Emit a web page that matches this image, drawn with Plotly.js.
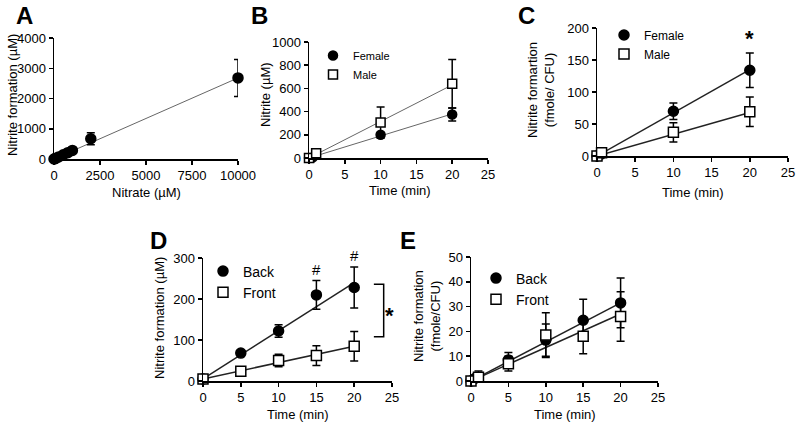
<!DOCTYPE html>
<html>
<head>
<meta charset="utf-8">
<script src="https://cdn.plot.ly/plotly-3.0.1.min.js"></script>
<style>
  html, body { margin: 0; padding: 0; background: #fff; }
  #fig { width: 800px; height: 426px; }
</style>
</head>
<body>
<div id="fig"></div>
<script>
// ---- panel A : nitrate dose response ----
var aNitrate = [0, 50, 100, 250, 500, 750, 1000, 2000, 10000];
var aNitrite = [0, 10, 25, 65, 140, 210, 285, 670, 2680];
var aErr     = [0, 0, 0, 0, 0, 0, 0, 200, 610];
var aFitX = [0, 10000];
var aFitY = [0, 2680];

// ---- panel B : nitrite (uM) by sex ----
var bFemaleT = [0, 0.5, 10, 20];
var bFemale  = [0, 5, 200, 375];
var bFemaleE = [0, 0, 15, 55];
var bMaleT   = [0, 1, 10, 20];
var bMale    = [0, 40, 305, 640];
var bMaleE   = [0, 0, 135, 210];
var bFitT = [0, 20];
var bFemaleFit = [0, 380];
var bMaleFit   = [0, 630];

// ---- panel C : fmole / CFU by sex ----
var cFemaleT = [0, 0.5, 10, 20];
var cFemale  = [0, 3, 70, 134];
var cFemaleE = [0, 2, 13, 27];
var cMaleT   = [0, 0.6, 10, 20];
var cMale    = [0, 5, 37, 69];
var cMaleE   = [0, 3, 15, 23];
var cFitT = [0, 20];
var cFemaleFit = [0, 135];
var cMaleFit   = [0, 68];

// ---- panel D : back vs front (uM) ----
var dTime   = [0, 5, 10, 15, 20];
var dBack   = [5, 68, 122, 210, 228];
var dBackE  = [2, 4, 15, 35, 50];
var dFront  = [5, 24, 50, 62, 85];
var dFrontE = [2, 3, 15, 24, 36];
var dFitT = [0, 20];
var dBackFit  = [5, 240];
var dFrontFit = [5, 85];

// ---- panel E : back vs front (fmole/CFU) ----
var eBackT  = [0, 0.5, 5, 10, 15, 20];
var eBack   = [0, 1, 8.5, 16.5, 24.5, 31.5];
var eBackE  = [0, 1, 3, 6.5, 8.5, 10];
var eFrontT = [0, 1, 5, 10, 15, 20];
var eFront  = [0, 1.5, 7, 18.5, 18, 26];
var eFrontE = [0, 2.5, 3, 9, 7, 10];
var eFitT = [0, 20];
var eBackFit  = [0, 31.5];
var eFrontFit = [0, 27];

var FONT = 'Arial, "Liberation Sans", sans-serif';
function px(x) { return x / 800; }
function py(y) { return 1 - y / 426; }

function xAx(l, r, range, dtick, anchor) {
  return {
    domain: [px(l), px(r)], range: range, dtick: dtick, tick0: 0, anchor: anchor,
    tickformat: 'd',
    showline: true, linecolor: '#000', linewidth: 1.5,
    ticks: 'outside', ticklen: 4, tickwidth: 1.5, tickcolor: '#000',
    showgrid: false, zeroline: false, fixedrange: true,
    tickfont: {family: FONT, size: 13, color: '#000'}
  };
}
function yAx(top, bottom, range, dtick, anchor) {
  var a = xAx(0, 1, range, dtick, anchor);
  a.domain = [py(bottom), py(top)];
  return a;
}

function pts(x, y, err, xa, ya, name, symbol, legend, size) {
  return {
    x: x, y: y, type: 'scatter', mode: 'markers', xaxis: xa, yaxis: ya,
    name: name, legend: legend, showlegend: !!legend, cliponaxis: false,
    marker: {symbol: symbol, size: size, color: symbol === 'circle' ? '#000' : '#fff',
             line: {color: '#000', width: 1.5}},
    error_y: {type: 'data', array: err, visible: true, color: '#000', thickness: 1.5, width: 4},
    hoverinfo: 'x+y'
  };
}
function fit(x, y, xa, ya, color, width) {
  return {
    x: x, y: y, type: 'scatter', mode: 'lines', xaxis: xa, yaxis: ya,
    showlegend: false, hoverinfo: 'skip', cliponaxis: false,
    line: {color: color, width: width}
  };
}

var data = [
  fit(aFitX, aFitY, 'x', 'y', '#666', 1),
  pts(aNitrate, aNitrite, aErr, 'x', 'y', 'A', 'circle', null, 10),

  fit(bFitT, bFemaleFit, 'x2', 'y2', '#666', 1),
  fit(bFitT, bMaleFit, 'x2', 'y2', '#666', 1),
  pts(bFemaleT, bFemale, bFemaleE, 'x2', 'y2', 'Female', 'circle', 'legend', 9),
  pts(bMaleT, bMale, bMaleE, 'x2', 'y2', 'Male', 'square', 'legend', 9),

  fit(cFitT, cFemaleFit, 'x3', 'y3', '#222', 1.5),
  fit(cFitT, cMaleFit, 'x3', 'y3', '#222', 1.5),
  pts(cFemaleT, cFemale, cFemaleE, 'x3', 'y3', 'Female', 'circle', 'legend2', 10),
  pts(cMaleT, cMale, cMaleE, 'x3', 'y3', 'Male', 'square', 'legend2', 10),

  fit(dFitT, dBackFit, 'x4', 'y4', '#222', 1.5),
  fit(dFitT, dFrontFit, 'x4', 'y4', '#222', 1.5),
  pts(dTime, dBack, dBackE, 'x4', 'y4', 'Back', 'circle', 'legend3', 10),
  pts(dTime, dFront, dFrontE, 'x4', 'y4', 'Front', 'square', 'legend3', 10),

  fit(eFitT, eBackFit, 'x5', 'y5', '#222', 1.5),
  fit(eFitT, eFrontFit, 'x5', 'y5', '#222', 1.5),
  pts(eBackT, eBack, eBackE, 'x5', 'y5', 'Back', 'circle', 'legend4', 10),
  pts(eFrontT, eFront, eFrontE, 'x5', 'y5', 'Front', 'square', 'legend4', 10)
];

function title(text, x, y, angle, size) {
  return {text: text, x: px(x), y: py(y), xref: 'paper', yref: 'paper', showarrow: false,
          textangle: angle || 0, font: {family: FONT, size: size || 13, color: '#000'},
          xanchor: 'center', yanchor: 'middle'};
}
function letter(t, x, y) {
  return title('<b>' + t + '</b>', x, y, 0, 24);
}
function mark(t, xa, ya, x, y, size) {
  return {text: t, x: x, y: y, xref: xa, yref: ya, showarrow: false,
          font: {family: FONT, size: size, color: '#000'}, xanchor: 'center', yanchor: 'middle'};
}
function legendAt(x, y, size) {
  return {x: px(x), y: py(y), xanchor: 'left', yanchor: 'top', bgcolor: 'rgba(0,0,0,0)',
          borderwidth: 0, font: {family: FONT, size: size, color: '#000'},
          itemclick: false, itemdoubleclick: false, tracegroupgap: 0};
}

var layout = {
  width: 800, height: 426,
  margin: {l: 0, r: 0, t: 0, b: 0},
  paper_bgcolor: '#fff', plot_bgcolor: '#fff',
  showlegend: true,
  xaxis:  xAx(54, 238, [0, 10000], 2500, 'y'),
  yaxis:  yAx(38, 159, [0, 4000], 1000, 'x'),
  xaxis2: xAx(309, 488, [0, 25], 5, 'y2'),
  yaxis2: yAx(42, 158, [0, 1000], 200, 'x2'),
  xaxis3: xAx(597, 788, [0, 25], 5, 'y3'),
  yaxis3: yAx(28, 156, [0, 200], 50, 'x3'),
  xaxis4: xAx(203, 392, [0, 25], 5, 'y4'),
  yaxis4: yAx(258, 381, [0, 300], 100, 'x4'),
  xaxis5: xAx(471, 658, [0, 25], 5, 'y5'),
  yaxis5: yAx(257, 381, [0, 50], 10, 'x5'),
  legend:  legendAt(313, 41, 11),
  legend2: legendAt(604, 20.5, 12),
  legend3: legendAt(203, 255.5, 14),
  legend4: legendAt(476, 262.5, 14),
  annotations: [
    letter('A', 24, 16), letter('B', 259, 16), letter('C', 526, 16),
    letter('D', 158, 240), letter('E', 408, 240),

    title('Nitrite formation (µM)', 12, 95, -90),
    title('Nitrate (µM)', 146, 192),
    title('Nitrite (µM)', 265, 95, -90),
    title('Time (min)', 400, 190),
    title('Nitrite formartion<br>(fmole/ CFU)', 541, 90, -90),
    title('Time (min)', 693, 192),
    title('Nitrite formation (µM)', 159, 318, -90),
    title('Time (min)', 298, 414),
    title('Nitrite formation<br>(fmole/CFU)', 427, 316, -90),
    title('Time (min)', 565, 414),

    mark('<b>*</b>', 'x3', 'y3', 20, 184, 22),
    mark('#', 'x4', 'y4', 15, 273, 15),
    title('#', 354, 255, 0, 15),
    mark('<b>*</b>', 'x4', 'y4', 24.7, 160, 22)
  ],
  shapes: [
    {type: 'path', xref: 'x4', yref: 'y4', path: 'M 22.6,236 L 23.9,236 L 23.9,108 L 22.6,108',
     line: {color: '#000', width: 1.5}}
  ]
};

Plotly.newPlot('fig', data, layout, {displayModeBar: false, staticPlot: true});
</script>
</body>
</html>
